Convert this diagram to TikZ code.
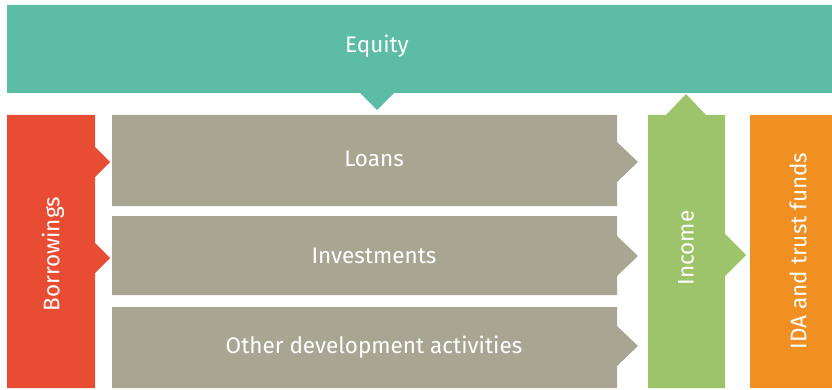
\documentclass[tikz,border=0pt]{standalone}
\usepackage{fontspec}
\setmainfont{Fira Sans}
\newlength{\du}
\setlength{\du}{1pt}
\definecolor{equitycolor}{rgb}{0.361, 0.737, 0.651}
\definecolor{borrowcolor}{rgb}{0.910, 0.302, 0.200}
\definecolor{activitycolor}{rgb}{0.659, 0.651, 0.573}
\definecolor{incomecolor}{rgb}{0.616, 0.769, 0.416}
\definecolor{idacolor}{rgb}{0.941, 0.565, 0.133}
\tikzset{boxlabel/.style={text=white, inner sep=0pt, font=\fontsize{22.5}{26}\selectfont}}

\begin{document}
\begin{tikzpicture}
\pgftransformxscale{1.000000}
\pgftransformyscale{-1.000000}
\useasboundingbox (0\du,0\du) rectangle (832\du,390\du);
% equity bar
\pgfsetfillcolor{equitycolor}
\fill (7\du,5\du)--(832\du,5\du)--(832\du,93\du)--(394\du,93\du)--(377\du,110\du)--(360\du,93\du)--(7\du,93\du)--cycle;
\node[boxlabel] (equity) at (377\du,46\du){Equity};
% borrowings
\pgfsetfillcolor{borrowcolor}
\fill (7\du,115\du)--(95\du,115\du)--(95\du,147\du)--(110\du,162\du)--(95\du,177\du)--(95\du,243\du)--(110\du,258\du)--(95\du,273\du)--(95\du,388\du)--(7\du,388\du)--cycle;
\node[boxlabel, rotate=90] (borrowings) at (53\du,254\du){Borrowings};
% activities
\pgfsetfillcolor{activitycolor}
\fill (112\du,115\du)--(617\du,115\du)--(617\du,142\du)--(638\du,162\du)--(617\du,182\du)--(617\du,206\du)--(112\du,206\du)--cycle;
\node[boxlabel] (loans) at (374\du,159\du){Loans};
\fill (112\du,216\du)--(617\du,216\du)--(617\du,236\du)--(638\du,256\du)--(617\du,276\du)--(617\du,295\du)--(112\du,295\du)--cycle;
\node[boxlabel] (investments) at (374\du,256\du){Investments};
\fill (112\du,307\du)--(617\du,307\du)--(617\du,326\du)--(638\du,346\du)--(617\du,366\du)--(617\du,388\du)--(112\du,388\du)--cycle;
\node[boxlabel] (other) at (374\du,347\du){Other development activities};
% income
\pgfsetfillcolor{incomecolor}
\fill (648\du,115\du)--(666\du,115\du)--(686\du,94\du)--(706\du,115\du)--(725\du,115\du)--(725\du,234\du)--(746\du,255\du)--(725\du,276\du)--(725\du,388\du)--(648\du,388\du)--cycle;
\node[boxlabel, rotate=90] (income) at (686\du,248\du){Income};
% ida and trust funds
\pgfsetfillcolor{idacolor}
\fill (750\du,115\du)--(832\du,115\du)--(832\du,388\du)--(750\du,388\du)--cycle;
\node[boxlabel, rotate=90] (ida) at (798\du,251\du){IDA and trust funds};
\end{tikzpicture}
\end{document}
